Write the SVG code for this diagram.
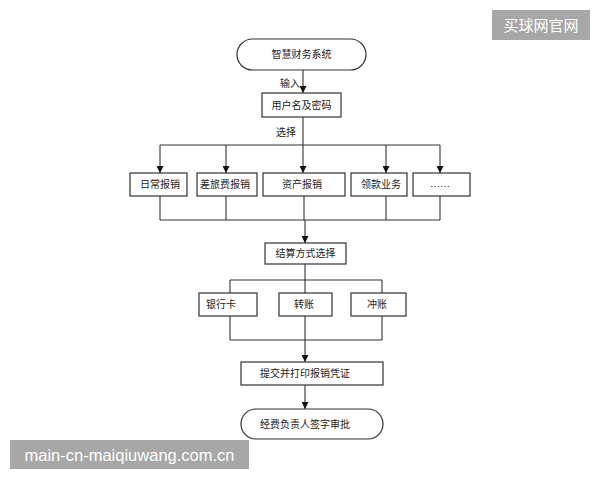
<svg xmlns="http://www.w3.org/2000/svg" width="600" height="480" viewBox="0 0 600 480">
<defs>
<marker id="ah" viewBox="0 0 10 10" refX="10" refY="5" markerWidth="7" markerHeight="7" markerUnits="userSpaceOnUse" orient="auto">
<path d="M0,0 L10,5 L0,10 z" fill="#111"/>
</marker>
<style>
.b{fill:#fff;stroke:#333;stroke-width:1.2}
.t{font-family:"Liberation Serif","Noto Sans CJK SC",serif;font-size:10px;fill:#222;text-anchor:middle;dominant-baseline:central}
.c{fill:none;stroke:#333;stroke-width:1.1}
.a{marker-end:url(#ah)}
.wm{fill:#a7a7a7}
.wt{font-family:"Liberation Sans","Noto Sans CJK SC",sans-serif;fill:#fff;dominant-baseline:central}
</style>
</defs>
<rect width="600" height="480" fill="#fff"/>
<g id="connectors">
<line class="c a" x1="303" y1="70" x2="303" y2="93"/>
<line class="c" x1="303" y1="117" x2="303" y2="145"/>
<line class="c" x1="160" y1="145" x2="440" y2="145"/>
<line class="c a" x1="160" y1="145" x2="160" y2="173"/>
<line class="c a" x1="226" y1="145" x2="226" y2="173"/>
<line class="c a" x1="303" y1="145" x2="303" y2="173"/>
<line class="c a" x1="386" y1="145" x2="386" y2="173"/>
<line class="c a" x1="440" y1="145" x2="440" y2="173"/>
<line class="c" x1="160" y1="196" x2="160" y2="220"/>
<line class="c" x1="226" y1="196" x2="226" y2="220"/>
<line class="c" x1="304" y1="196" x2="304" y2="220"/>
<line class="c" x1="386" y1="196" x2="386" y2="220"/>
<line class="c" x1="440" y1="196" x2="440" y2="220"/>
<line class="c" x1="160" y1="220" x2="440" y2="220"/>
<line class="c a" x1="305" y1="220" x2="305" y2="243"/>
<line class="c" x1="305" y1="264" x2="305" y2="293"/>
<line class="c" x1="230" y1="280" x2="382" y2="280"/>
<line class="c" x1="230" y1="280" x2="230" y2="293"/>
<line class="c" x1="382" y1="280" x2="382" y2="293"/>
<line class="c" x1="230" y1="316" x2="230" y2="340"/>
<line class="c" x1="305" y1="316" x2="305" y2="340"/>
<line class="c" x1="382" y1="316" x2="382" y2="340"/>
<line class="c" x1="230" y1="340" x2="382" y2="340"/>
<line class="c a" x1="305" y1="340" x2="305" y2="362"/>
<line class="c a" x1="305" y1="385" x2="305" y2="409"/>
<text class="t" x="290" y="83">输入</text>
<text class="t" x="286" y="132">选择</text>
</g>
<g id="start"><rect class="b" x="237" y="39" width="129" height="31" rx="15.5"/><text class="t" x="301.5" y="54.5">智慧财务系统</text></g>
<g id="login"><rect class="b" x="262" y="93" width="79" height="24"/><text class="t" x="301.5" y="105">用户名及密码</text></g>
<g id="daily"><rect class="b" x="130" y="173" width="57" height="23"/><text class="t" x="160" y="184.5">日常报销</text></g>
<g id="travel"><rect class="b" x="197" y="173" width="60" height="23"/><text class="t" x="225" y="184.5">差旅费报销</text></g>
<g id="asset"><rect class="b" x="263" y="173" width="82" height="23"/><text class="t" x="302" y="184.5">资产报销</text></g>
<g id="loan"><rect class="b" x="351" y="173" width="56" height="23"/><text class="t" x="381" y="184.5">领款业务</text></g>
<g id="more"><rect class="b" x="413" y="173" width="57" height="23"/><text class="t" x="440" y="183">……</text></g>
<g id="settle"><rect class="b" x="265" y="243" width="81" height="21"/><text class="t" x="305.5" y="253.5">结算方式选择</text></g>
<g id="card"><rect class="b" x="199" y="293" width="58" height="23"/><text class="t" x="221" y="304.5">银行卡</text></g>
<g id="transfer"><rect class="b" x="279" y="293" width="53" height="23"/><text class="t" x="304" y="304.5">转账</text></g>
<g id="offset"><rect class="b" x="351" y="293" width="55" height="23"/><text class="t" x="377" y="304.5">冲账</text></g>
<g id="submit"><rect class="b" x="241" y="362" width="142" height="23"/><text class="t" x="305" y="373.5">提交并打印报销凭证</text></g>
<g id="end"><rect class="b" x="241" y="409" width="142" height="30" rx="15"/><text class="t" x="305" y="424">经费负责人签字审批</text></g>
<g id="watermarks">
<rect class="wm" x="492" y="10" width="98" height="30"/>
<text class="wt" x="541" y="25" font-size="15" text-anchor="middle">买球网官网</text>
<rect class="wm" x="10" y="440" width="239" height="29"/>
<text class="wt" x="129.5" y="455" font-size="16.5" text-anchor="middle">main-cn-maiqiuwang.com.cn</text>
</g>
</svg>
